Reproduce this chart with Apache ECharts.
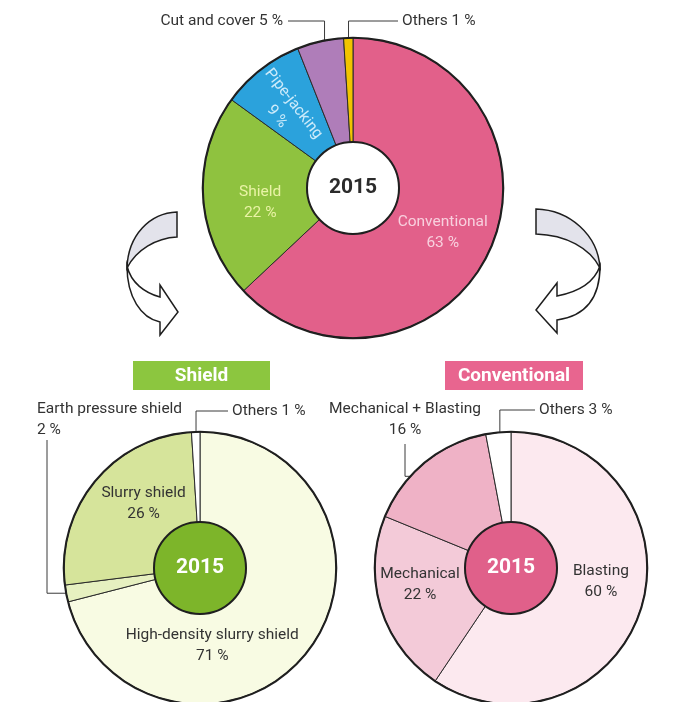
<!DOCTYPE html>
<html>
<head>
<meta charset="utf-8">
<title>Tunnelling methods 2015</title>
<script src="https://cdn.jsdelivr.net/npm/echarts@6/dist/echarts.min.js"></script>
<style>
  html, body { margin: 0; padding: 0; background: #fff; }
  #chart { width: 688px; height: 702px; }
</style>
</head>
<body>
<div id="chart"></div>
<script>
// ---- data ----
const yearLabel = '2015';
const methodNames = ['Conventional', 'Shield', 'Pipe-jacking', 'Cut and cover', 'Others'];
const methodShares = [63, 22, 9, 5, 1];
const shieldNames = ['High-density slurry shield', 'Earth pressure shield', 'Slurry shield', 'Others'];
const shieldShares = [71, 2, 26, 1];
const conventionalNames = ['Blasting', 'Mechanical', 'Mechanical + Blasting', 'Others'];
const conventionalShares = [60, 22, 16, 3];
const breakdownTitles = ['Shield', 'Conventional'];

// ---- look ----
const FONT = "Roboto, 'Liberation Sans', sans-serif";
const INK = '#333333';
const EDGE = '#1f1f1f';
const LABEL_SIZE = 15.5;

const geomMain = { center: [353, 188], radius: 150, hole: 46 };
const geomShield = { center: [200, 568], radius: 136, hole: 46 };
const geomConv = { center: [511, 568], radius: 136, hole: 46 };

// label placement: inside labels nudge (dx, dy) from the library position,
// outside labels sit at (x, y) with an elbow leader into their slice
const placeMain = {
  'Conventional': { dx: -3, dy: 5, color: '#F8D0DE' },
  'Shield': { dx: 8, dy: 8, color: '#E9F3A6' },
  'Pipe-jacking': { dx: -6, dy: 2, color: '#CDEBFA', rotate: 'radial' },
  'Cut and cover': { x: 283, y: 21, align: 'right', leader: 'h', depth: 0.87, inline: true },
  'Others': { x: 402, y: 21, align: 'left', leader: 'h', depth: 0.95, inline: true }
};
const placeShield = {
  'High-density slurry shield': { dx: -62, dy: 20 },
  'Slurry shield': { dx: 16, dy: -4 },
  'Earth pressure shield': { x: 37, y: 420, align: 'left', leader: 'v', lineX: 47, lineFrom: 440, depth: 0.99 },
  'Others': { x: 232, y: 411, align: 'left', leader: 'h', depth: 0.93, inline: true }
};
const placeConv = {
  'Blasting': { dx: 0, dy: -14 },
  'Mechanical': { dx: -1, dy: -11 },
  'Mechanical + Blasting': { x: 405, y: 420, align: 'center', leader: 'v', lineX: 405, lineFrom: 444, depth: 0.87 },
  'Others': { x: 539, y: 410, align: 'left', leader: 'h', depth: 0.88, inline: true }
};

function layoutLabel(params, names, place, geom) {
  const p = place[names[params.dataIndex]];
  if (!p) return {};
  const r = params.labelRect;
  if (!p.leader) {
    return {
      x: r.x + r.width / 2 + (p.dx || 0),
      y: r.y + r.height / 2 + (p.dy || 0),
      align: 'center', verticalAlign: 'middle'
    };
  }
  const edge = params.labelLinePoints[0];
  const cx = geom.center[0], cy = geom.center[1];
  const ax = cx + (edge[0] - cx) * p.depth;
  const ay = cy + (edge[1] - cy) * p.depth;
  let pts;
  if (p.leader === 'h') {
    const sx = p.align === 'right' ? p.x + 5 : p.x - 4;
    pts = [[sx, p.y], [ax, p.y], [ax, ay]];
  } else {
    pts = [[p.lineX, p.lineFrom], [p.lineX, ay], [ax, ay]];
  }
  return { x: p.x, y: p.y, align: p.align, verticalAlign: 'middle', labelLinePoints: pts };
}

function buildDonut(id, names, values, colors, geom, place, discColor, yearColor) {
  const data = names.map((name, i) => {
    const p = place[name] || {};
    const outside = !!p.leader;
    return {
      name: name,
      value: values[i],
      itemStyle: { color: colors[i] },
      label: {
        position: outside ? 'outside' : 'inside',
        formatter: p.inline ? '{b} {c} %' : '{b}\n{c} %',
        color: p.color || INK,
        rotate: p.rotate || 0
      },
      labelLine: { show: outside, lineStyle: { color: '#3a3a3a', width: 1 } }
    };
  });
  return [
    {
      type: 'pie', id: id + '-slices',
      center: geom.center, radius: [geom.hole, geom.radius],
      startAngle: 90, clockwise: true, avoidLabelOverlap: false, silent: true,
      itemStyle: { borderColor: '#2b2b2b', borderWidth: 1 },
      label: { fontFamily: FONT, fontSize: LABEL_SIZE, lineHeight: 21 },
      labelLine: { length: 10, length2: 10 },
      data: data,
      labelLayout: (params) => layoutLabel(params, names, place, geom)
    },
    {
      type: 'pie', id: id + '-rim',
      center: geom.center, radius: [geom.radius - 0.8, geom.radius + 1.3],
      silent: true, label: { show: false }, labelLine: { show: false },
      itemStyle: { color: EDGE }, data: [{ value: 1 }]
    },
    {
      type: 'pie', id: id + '-year',
      center: geom.center, radius: [0, geom.hole],
      silent: true,
      itemStyle: { color: discColor, borderColor: EDGE, borderWidth: 2 },
      label: {
        position: 'center', formatter: '{b}', fontFamily: FONT,
        fontWeight: 'bold', fontSize: 21, color: yearColor
      },
      labelLine: { show: false },
      data: [{ name: yearLabel, value: 1 }]
    }
  ];
}

// curled arrows leading from the main ring to the two breakdowns
const arrowParts = {
  curlLeftBack: 'M177,212 C150,213 128,235 127,268 C136,250 156,238 177,237 Z',
  curlLeftFront: 'M127,266 C127,297 141,318 160,322 L160,335 L178,312 L160,285 L160,297 C145,293 131,283 127,266 Z',
  curlRightBack: 'M536,209 C570,210 598,235 600,268 C590,248 566,235 536,234 Z',
  curlRightFront: 'M600,266 C600,297 586,316 557,320 L557,333 L536,310 L557,283 L557,296 C578,292 594,283 600,266 Z'
};
Object.keys(arrowParts).forEach(function (key) {
  echarts.graphic.registerShape(key, echarts.graphic.extendPath(arrowParts[key], {}));
});

const arrowStyle = { stroke: '#1e1e1e', lineWidth: 1.5 };
const decorations = [
  { type: 'curlLeftBack', shape: {}, style: Object.assign({ fill: '#E3E3EB' }, arrowStyle) },
  { type: 'curlLeftFront', shape: {}, style: Object.assign({ fill: '#FFFFFF' }, arrowStyle) },
  { type: 'curlRightBack', shape: {}, style: Object.assign({ fill: '#E3E3EB' }, arrowStyle) },
  { type: 'curlRightFront', shape: {}, style: Object.assign({ fill: '#FFFFFF' }, arrowStyle) },
  // breakdown headings
  { type: 'rect', shape: { x: 133, y: 361, width: 137, height: 29 }, style: { fill: '#8CC63F' } },
  { type: 'text', style: { text: breakdownTitles[0], x: 201.5, y: 376, align: 'center', verticalAlign: 'middle',
      fill: '#FFFFFF', fontFamily: FONT, fontWeight: 'bold', fontSize: 19 } },
  { type: 'rect', shape: { x: 445, y: 361, width: 138, height: 29 }, style: { fill: '#E8658F' } },
  { type: 'text', style: { text: breakdownTitles[1], x: 514, y: 376, align: 'center', verticalAlign: 'middle',
      fill: '#FFFFFF', fontFamily: FONT, fontWeight: 'bold', fontSize: 19 } }
];

const chart = echarts.init(document.getElementById('chart'), null, { renderer: 'canvas' });
chart.setOption({
  animation: false,
  backgroundColor: '#ffffff',
  graphic: { elements: decorations },
  series: [].concat(
    buildDonut('methods', methodNames, methodShares,
      ['#E2608A', '#8FC23F', '#2BA2DC', '#AF7DB9', '#F2C400'],
      geomMain, placeMain, '#FFFFFF', '#2B2B2B'),
    buildDonut('shield', shieldNames, shieldShares,
      ['#F8FBE3', '#E6F0C0', '#D6E49B', '#FFFFFF'],
      geomShield, placeShield, '#7DB52A', '#FFFFFF'),
    buildDonut('conventional', conventionalNames, conventionalShares,
      ['#FCE9EF', '#F3CAD8', '#EFB2C6', '#FFFFFF'],
      geomConv, placeConv, '#E0608A', '#FFFFFF')
  )
});
</script>
</body>
</html>
